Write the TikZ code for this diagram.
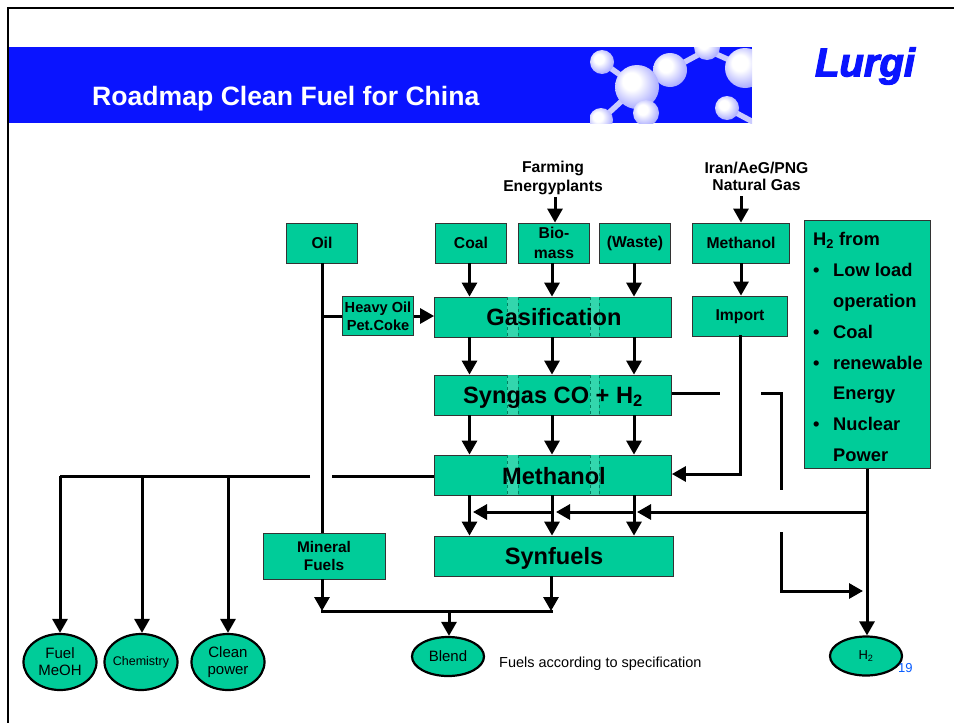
\documentclass[tikz,border=0pt]{standalone}
\usepackage{fontspec}
\setmainfont{Liberation Sans}
\usetikzlibrary{arrows.meta,shadings,calc,shapes.geometric}
\definecolor{gr}{HTML}{00CC99}
\definecolor{grl}{HTML}{33D6AD}
\definecolor{grd}{HTML}{00805F}
\definecolor{bl}{HTML}{0A14FF}
\definecolor{ballc}{HTML}{8A8CFF}
\newcommand{\fs}[1]{\fontsize{#1}{#1}\selectfont}
\pgfdeclareradialshading{mol}{\pgfpoint{-8bp}{8bp}}{color(0bp)=(white); color(10bp)=(white); color(24bp)=(ballc!55!white); color(36bp)=(ballc); color(50bp)=(ballc!65!bl)}
\tikzset{
 x=1pt,y=-1pt,
 box/.style={draw=black!80,line width=0.8pt,fill=gr,inner sep=0pt,align=center,font=\fs{15.7}\bfseries},
 oval/.style={ellipse,draw=black,line width=2.2pt,fill=gr,inner sep=-5pt,align=center,font=\fs{15}},
 lbl/.style={inner sep=0pt,align=center,font=\fs{15.7}\bfseries},
 bigl/.style={inner sep=0pt,font=\fs{23.6}\bfseries},
 ln/.style={line width=3pt,draw=black},
 arr/.style={ln,-{Triangle[length=14pt,width=15pt]}},
 band/.style={fill=grl,draw=none},
 bandedge/.style={draw=grd,line width=0.5pt,dashed},
 bond/.style={line width=5.5pt,color=white!55!ballc},
 mball/.style={shading=mol},
}
\begin{document}
\begin{tikzpicture}
\useasboundingbox (0,0) rectangle (954,723);
\fill[white] (0,0) rectangle (954,723);
% frame
\draw[line width=2.4pt,black] (8,723) -- (8,8) -- (954,8);
% banner
\fill[bl] (9,47) rectangle (752,123);
\begin{scope}
\clip (590,47) rectangle (752,123);
\draw[bond] (602,62) -- (637,87);
\draw[bond] (637,87) -- (601,120);
\draw[bond] (637,87) -- (646,113);
\draw[bond] (637,87) -- (670,70);
\draw[bond] (670,70) -- (707,50);
\draw[bond] (707,50) -- (745,67);
\draw[bond] (727,108) -- (755,123);
\shade[mball] (602,62) circle (12);
\shade[mball] (601,120) circle (12);
\shade[mball] (707,47) circle (13);
\shade[mball] (745,68) circle (20);
\shade[mball] (727,108) circle (12);
\shade[mball] (670,70) circle (17);
\shade[mball] (637,87) circle (22);
\shade[mball] (646,113) circle (13);
\end{scope}
\node[anchor=west,inner sep=0pt,text=white,font=\fs{26.6}\bfseries] (title) at (92,99) {Roadmap Clean Fuel for China};
\node[inner sep=0pt,text=bl,font=\fs{40}\bfseries\itshape] (logo) at (865,66) {\addfontfeature{FakeBold=3}Lurgi};
% columns
\coordinate (c1) at (469.5,0);
\coordinate (c2) at (552,0);
\coordinate (c3) at (634,0);
% top text
\node[lbl] (farm) at (553,178) {Farming\\[3pt]Energyplants};
\node[lbl] (iran) at (756.5,176.5) {Iran/AeG/PNG\\[2pt]Natural Gas};
% boxes
\node[box,minimum width=71,minimum height=40] (oil) at (322,243) {Oil};
\node[box,minimum width=71,minimum height=40] (coal) at (471,243) {Coal};
\node[box,minimum width=71,minimum height=40] (bio) at (554,243) {Bio-\\[4pt]mass};
\node[box,minimum width=71,minimum height=40] (waste) at (635,243) {(Waste)};
\node[box,minimum width=97,minimum height=40] (meth) at (741,243) {Methanol};
\node[box,minimum width=95,minimum height=40] (import) at (740,316) {};
\node[lbl] (importt) at (740,317) {Import};
\node[box,minimum width=71,minimum height=39,font=\fs{14.6}\bfseries] (heavy) at (378,316) {Heavy Oil\\[3pt]Pet.Coke};
\node[box,minimum width=122,minimum height=46,font=\fs{15.4}\bfseries] (mineral) at (324,556) {Mineral\\[3pt]Fuels};
\node[box,minimum width=237,minimum height=40] (gas) at (553,317) {};
\node[box,minimum width=237,minimum height=40] (syn) at (553,395) {};
\node[box,minimum width=237,minimum height=40] (methb) at (553,475) {};
\node[box,minimum width=239,minimum height=40] (synf) at (554,556) {};
\foreach \y in {317,395,475}{
  \fill[band] (507,\y-20) rectangle (518,\y+20);
  \fill[band] (590,\y-20) rectangle (599,\y+20);
  \draw[bandedge] (507,\y-20) -- (507,\y+20);
  \draw[bandedge] (518,\y-20) -- (518,\y+20);
  \draw[bandedge] (590,\y-20) -- (590,\y+20);
  \draw[bandedge] (599,\y-20) -- (599,\y+20);
}
\node[bigl] (gast) at (554,317) {Gasification};
\node[bigl] (synt) at (553,397.5) {Syngas CO + H\textsubscript{2}};
\node[bigl] (metht) at (554,476) {Methanol};
\node[bigl] (synft) at (554,558.5) {Synfuels};
% H2 box
\node[box,anchor=north west,minimum width=126,minimum height=248] (h2) at (804,220) {};
\node[anchor=north west,inner sep=0pt,align=left,font=\fontsize{18.3}{30.9}\selectfont\bfseries] (h2t) at (813,232) {%
H\textsubscript{2} from\\
\makebox[20pt][l]{•}Low load\\
\makebox[20pt][l]{}operation\\
\makebox[20pt][l]{•}Coal\\
\makebox[20pt][l]{•}renewable\\
\makebox[20pt][l]{}Energy\\
\makebox[20pt][l]{•}Nuclear\\
\makebox[20pt][l]{}Power};
% ovals
\node[oval,minimum width=73,minimum height=56] (fuel) at (60,662) {Fuel\\[2pt]MeOH};
\node[oval,minimum width=73,minimum height=56,font=\fs{12.5},inner xsep=-12pt] (chem) at (141,662) {Chemistry};
\node[oval,minimum width=73,minimum height=56] (clean) at (228,662) {Clean\\[2pt]power};
\node[oval,minimum width=72,minimum height=39,inner xsep=-8pt] (blend) at (448,656.5) {Blend};
\node[oval,minimum width=72,minimum height=39,font=\fs{13}] (h2o) at (866,656) {H\textsubscript{2}};
\node[anchor=west,inner sep=0pt,font=\fs{14.5}] (spec) at (499,663.5) {Fuels according to specification};
\node[anchor=west,inner sep=0pt,text=bl!70!cyan,font=\fs{13}] (pg) at (898,668) {19};
% junction coordinates
\coordinate (j1) at (322,611);
\coordinate (j2) at (551,611);
\coordinate (jb) at (449,611);
\coordinate (mr) at (867,512);
\coordinate (h3) at (637,512);
\coordinate (h2c) at (556,512);
\coordinate (h1) at (473,512);
\coordinate (ml) at (60,476);
\coordinate (m2) at (142,476);
\coordinate (m3) at (228,476);
\coordinate (g1) at (310,476);
\coordinate (g2) at (332,476);
\coordinate (s1) at (720,393);
\coordinate (s2) at (761,393);
\coordinate (s3) at (781,393);
\coordinate (s4) at (781,490);
\coordinate (s5) at (781,533);
\coordinate (s6) at (781,591);
\coordinate (s7) at (863,591);
\coordinate (ic) at (740,474);
\coordinate (fa) at (555,197);
\coordinate (ia) at (741,196);
% top arrows
\draw[arr] (fa) -- (bio.north -| fa);
\draw[arr] (ia) -- (meth.north -| ia);
\draw[arr] (meth.south) -- (import.north -| meth.south);
\draw[arr] (coal.south -| c1) -- (gas.north -| c1);
\draw[arr] (bio.south -| c2) -- (gas.north -| c2);
\draw[arr] (waste.south -| c3) -- (gas.north -| c3);
\draw[arr] (gas.south -| c1) -- (syn.north -| c1);
\draw[arr] (gas.south -| c2) -- (syn.north -| c2);
\draw[arr] (gas.south -| c3) -- (syn.north -| c3);
\draw[arr] (syn.south -| c1) -- (methb.north -| c1);
\draw[arr] (syn.south -| c2) -- (methb.north -| c2);
\draw[arr] (syn.south -| c3) -- (methb.north -| c3);
\draw[arr] (methb.south -| c1) -- (synf.north -| c1);
\draw[arr] (methb.south -| c2) -- (synf.north -| c2);
\draw[arr] (methb.south -| c3) -- (synf.north -| c3);
% oil
\draw[ln] (oil.south) -- (mineral.north -| oil.south);
\draw[arr] (mineral.south -| j1) -- (j1);
\draw[ln] (oil.south |- heavy.west) -- (heavy.west);
\draw[arr] (heavy.east) -- (gas.west |- heavy.east);
\draw[ln,line cap=rect] (j1) -- (j2);
\draw[arr] (synf.south -| j2) -- (j2);
\draw[arr] (jb) -- (blend.north -| jb);
% methanol left
\draw[ln] (g2) -- (methb.west |- g2);
\draw[ln] (g1) -- (ml);
\draw[arr] (ml) -- (fuel.north -| ml);
\draw[arr] (m2) -- (chem.north -| m2);
\draw[arr] (m3) -- (clean.north -| m3);
% import
\draw[ln,line cap=rect] (import.south -| ic) -- (ic);
\draw[arr] (ic) -- (methb.east |- ic);
% syngas right
\draw[ln] (syn.east |- s1) -- (s1);
\draw[ln,line join=miter] (s2) -- (s3) -- (s4);
\draw[ln,line cap=rect] (s5) -- (s6);
\draw[arr] (s6) -- (s7);
% H2
\draw[arr] (h2.south -| mr) -- (h2o.north -| mr);
\draw[arr] (mr) -- (h3);
\draw[arr] (c3 |- mr) -- (h2c);
\draw[arr] (c2 |- mr) -- (h1);
\end{tikzpicture}
\end{document}
